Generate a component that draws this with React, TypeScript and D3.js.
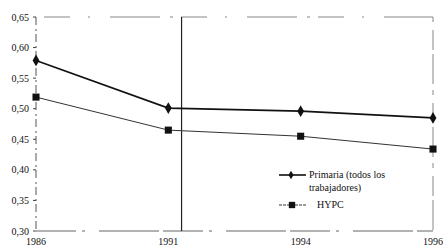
import { useEffect, useRef } from 'react';
import * as d3 from 'd3';

const years = ['1986', '1991', '1994', '1996'];
const primaria = [0.579, 0.501, 0.496, 0.485];
const hypc = [0.519, 0.465, 0.455, 0.434];
const yTicks = [0.3, 0.35, 0.4, 0.45, 0.5, 0.55, 0.6, 0.65];
const markerYear = 1991.3;

const W = 443;
const H = 249;

export default function App() {
    const ref = useRef<SVGSVGElement | null>(null);

    useEffect(() => {
        if (!ref.current) return;
        const svg = d3.select(ref.current);
        svg.selectAll('*').remove();

        const left = 36, right = 433, top = 17, bottom = 231;
        const x = d3.scalePoint<string>().domain(years).range([left, right]);
        const y = d3.scaleLinear().domain([0.3, 0.65]).range([bottom, top]);
        const font = '"Liberation Serif", "DejaVu Serif", serif';

        // frame (faded photocopy look)
        svg.append('line')
            .attr('x1', left + 8).attr('x2', right).attr('y1', top).attr('y2', top)
            .attr('stroke', '#888').attr('stroke-width', 1)
            .attr('stroke-dasharray', '26,18,2,20,50,10,3,8');
        svg.append('line')
            .attr('x1', right).attr('x2', right).attr('y1', top).attr('y2', bottom)
            .attr('stroke', '#888').attr('stroke-width', 1)
            .attr('stroke-dasharray', '5,8,20,4,30,6');
        svg.append('line')
            .attr('x1', left).attr('x2', right).attr('y1', bottom).attr('y2', bottom)
            .attr('stroke', '#666').attr('stroke-width', 1)
            .attr('stroke-dasharray', '40,6,3,14,60,4');
        svg.append('line')
            .attr('x1', left).attr('x2', left).attr('y1', top).attr('y2', bottom)
            .attr('stroke', '#555').attr('stroke-width', 1)
            .attr('stroke-dasharray', '8,4,2,3');

        // vertical marker line shortly after 1991
        const x91 = x('1991')!, x94 = x('1994')!;
        const xm = x91 + (x94 - x91) * (markerYear - 1991) / 3;
        svg.append('line')
            .attr('x1', xm).attr('x2', xm).attr('y1', top).attr('y2', bottom)
            .attr('stroke', '#222').attr('stroke-width', 1.2);

        // y ticks
        yTicks.forEach(t => {
            svg.append('line')
                .attr('x1', left - 3).attr('x2', left).attr('y1', y(t)).attr('y2', y(t))
                .attr('stroke', '#444');
            svg.append('text')
                .attr('x', left - 7).attr('y', y(t) + 3.5)
                .attr('text-anchor', 'end')
                .style('font-family', font).style('font-size', '10px').style('fill', '#111')
                .text(t.toFixed(2).replace('.', ','));
        });

        // x labels
        years.forEach(yr => {
            svg.append('text')
                .attr('x', x(yr)!).attr('y', 245)
                .attr('text-anchor', 'middle')
                .style('font-family', font).style('font-size', '10px').style('fill', '#111')
                .text(yr);
        });

        const line = d3.line<number>().x((_, i) => x(years[i])!).y(d => y(d));

        svg.append('path').datum(hypc).attr('d', line)
            .attr('fill', 'none').attr('stroke', '#333').attr('stroke-width', 1);
        svg.append('path').datum(primaria).attr('d', line)
            .attr('fill', 'none').attr('stroke', '#111').attr('stroke-width', 1.6);

        const diamond = d3.symbol().type(d3.symbolDiamond).size(40);
        const square = d3.symbol().type(d3.symbolSquare).size(50);

        svg.selectAll('path.pm').data(primaria).join('path')
            .attr('class', 'pm')
            .attr('d', diamond)
            .attr('transform', (d, i) => `translate(${x(years[i])},${y(d)})`)
            .attr('fill', '#111');
        svg.selectAll('path.hm').data(hypc).join('path')
            .attr('class', 'hm')
            .attr('d', square)
            .attr('transform', (d, i) => `translate(${x(years[i])},${y(d)})`)
            .attr('fill', '#111');

        // legend
        const lg = svg.append('g');
        lg.append('line').attr('x1', 279).attr('x2', 306).attr('y1', 175).attr('y2', 175)
            .attr('stroke', '#111').attr('stroke-width', 1.6);
        lg.append('path').attr('d', d3.symbol().type(d3.symbolDiamond).size(22))
            .attr('transform', 'translate(291,175)').attr('fill', '#111');
        lg.append('text').attr('x', 309).attr('y', 178)
            .style('font-family', font).style('font-size', '10px').style('fill', '#111')
            .text('Primaria (todos los');
        lg.append('text').attr('x', 309).attr('y', 191)
            .style('font-family', font).style('font-size', '10px').style('fill', '#111')
            .text('trabajadores)');
        lg.append('line').attr('x1', 279).attr('x2', 306).attr('y1', 205).attr('y2', 205)
            .attr('stroke', '#333').attr('stroke-width', 1).attr('stroke-dasharray', '3,1');
        lg.append('path').attr('d', d3.symbol().type(d3.symbolSquare).size(40))
            .attr('transform', 'translate(292,205)').attr('fill', '#111');
        lg.append('text').attr('x', 317).attr('y', 208)
            .style('font-family', font).style('font-size', '10px').style('fill', '#111')
            .text('HYPC');
    }, []);

    return (
        <svg ref={ref} width={W} height={H}
            style={{ position: 'absolute', left: 0, top: 0, background: '#fff' }} />
    );
}
